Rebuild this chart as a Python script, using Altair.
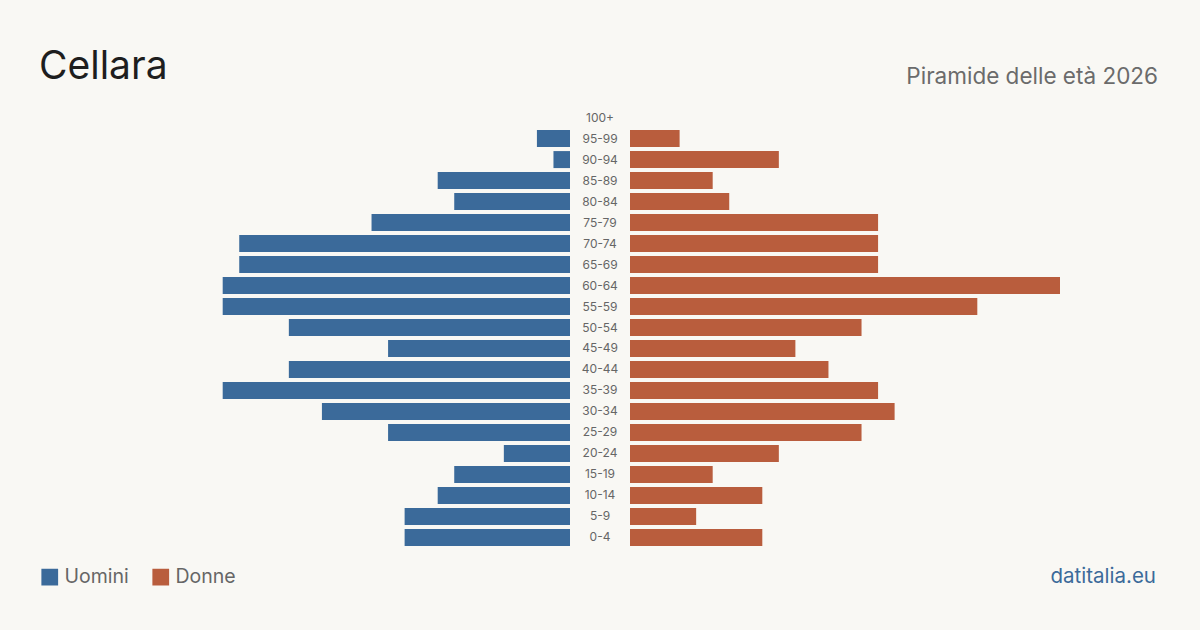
import altair as alt
import pandas as pd

# Age classes, top to bottom
ages = ["100+", "95-99", "90-94", "85-89", "80-84", "75-79", "70-74", "65-69",
        "60-64", "55-59", "50-54", "45-49", "40-44", "35-39", "30-34", "25-29",
        "20-24", "15-19", "10-14", "5-9", "0-4"]
uomini = [0, 2, 1, 8, 7, 12, 20, 20, 21, 21, 17, 11, 17, 21, 15, 11, 4, 7, 8, 10, 10]
donne = [0, 3, 9, 5, 6, 15, 15, 15, 26, 21, 14, 10, 12, 15, 16, 14, 9, 5, 8, 4, 8]

BLUE = "#3b6a9a"
ORANGE = "#b95d3d"
BG = "#f9f8f4"
FONT = "Inter"

df = pd.DataFrame({"eta": ages, "Uomini": uomini, "Donne": donne})
long = df.melt(id_vars="eta", value_vars=["Uomini", "Donne"], var_name="sesso", value_name="n")

y_enc = alt.Y("eta:N", sort=ages, axis=None,
              scale=alt.Scale(range=[107, 548], paddingInner=0.19, paddingOuter=0.1))
color_enc = alt.Color("sesso:N",
                      scale=alt.Scale(domain=["Uomini", "Donne"], range=[BLUE, ORANGE]),
                      legend=alt.Legend(orient="none", legendX=40, legendY=567, direction="horizontal",
                                        title=None, symbolType="square", symbolSize=280,
                                        symbolStrokeWidth=0, labelFont=FONT, labelFontSize=19.5,
                                        labelColor="#666666", columnPadding=22, labelOffset=5))

base = alt.Chart(long)

men = base.transform_filter(alt.datum.sesso == "Uomini").mark_bar().encode(
    x=alt.X("n:Q", axis=None, scale=alt.Scale(domain=[0, 26], range=[570, 140], nice=False)),
    y=y_enc,
    color=color_enc,
)
women = base.transform_filter(alt.datum.sesso == "Donne").mark_bar().encode(
    x=alt.X("n:Q", axis=None, scale=alt.Scale(domain=[0, 26], range=[630, 1060], nice=False)),
    y=y_enc,
    color=color_enc,
)

labels = alt.Chart(df).mark_text(font=FONT, fontSize=12, color="#666666",
                                 align="center", baseline="middle").encode(
    x=alt.value(600), y=y_enc, text="eta:N")

title = alt.Chart(pd.DataFrame({"t": ["Cellara"]})).mark_text(
    font=FONT, fontSize=39, color="#1e1e1e", align="left", baseline="alphabetic").encode(
    x=alt.value(39), y=alt.value(79), text="t:N")
subtitle = alt.Chart(pd.DataFrame({"t": ["Piramide delle età 2026"]})).mark_text(
    font=FONT, fontSize=22.5, color="#6b6b6b", align="right", baseline="alphabetic").encode(
    x=alt.value(1158), y=alt.value(84), text="t:N")
source = alt.Chart(pd.DataFrame({"t": ["datitalia.eu"]})).mark_text(
    font=FONT, fontSize=20.5, color="#3b6a9a", align="right", baseline="alphabetic").encode(
    x=alt.value(1156), y=alt.value(583), text="t:N")

chart = alt.layer(men, women, labels, title, subtitle, source).resolve_scale(
    x="independent"
).properties(
    width=1200, height=630, background=BG, padding=0,
    autosize=alt.AutoSizeParams(type="none"),
).configure_view(stroke=None)

chart.save("out.html", embed_options={"renderer": "svg", "actions": False})
